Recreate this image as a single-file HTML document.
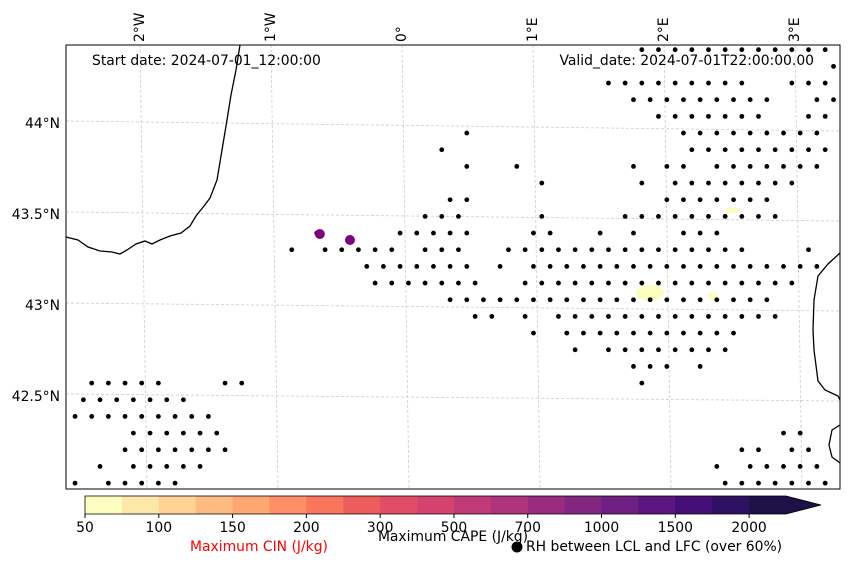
<!DOCTYPE html>
<html><head><meta charset="utf-8"><style>
body{margin:0;background:#fff;font-family:"DejaVu Sans",sans-serif}
svg text{font-family:"DejaVu Sans",sans-serif}
</style></head><body>
<svg id="c" width="850" height="565" viewBox="0 0 850 565" xmlns="http://www.w3.org/2000/svg">
<rect x="0" y="0" width="850" height="565" fill="#fff"/>
<g id="grid"></g>
<g id="cape"></g>
<g id="coast" fill="none" stroke="#000" stroke-width="1.3">
<path d="M240,45 L236,70 L231,95 L227,120 L222,150 L217,180 L210,198 L204,206 L196,216 L190,226 L181,233 L170,236 L160,240 L152,244 L145,241 L136,244 L127,250 L120,254 L112,252 L100,251 L88,247 L78,240 L66,237"/>
<path d="M840,253 L828,264 L818,276 L814,300 L813,330 L814,350 L818,381 L825,390 L838,396 L840,400"/>
<path d="M840,425 L832,430 L829,445 L832,457 L840,463"/>
</g>
<g id="dots"></g>
<g id="cin"></g>
<rect x="66" y="45" width="774" height="444" fill="none" stroke="#000" stroke-width="1"/>
<g id="labels" font-size="13.9"></g>
<text x="92" y="65" font-size="13.9">Start date: 2024-07-01_12:00:00</text>
<text x="814" y="65" font-size="13.9" text-anchor="end">Valid_date: 2024-07-01T22:00:00.00</text>
<g id="cbar"></g>
<text x="259" y="551" font-size="13.9" fill="#ff0000" text-anchor="middle">Maximum CIN (J/kg)</text>
<text x="453" y="541" font-size="13.9" text-anchor="middle">Maximum CAPE (J/kg)</text>
<circle cx="517" cy="547" r="5.5" fill="#000"/>
<text x="526" y="551" font-size="13.9">RH between LCL and LFC (over 60%)</text>
</svg>
<script>
// Data
const dotRows = [
 [34,35,36,37,38,39,40,41,42,43,44,45],
 [46],
 [32,33,34,35,36,37,38,39,40,43,44,45],
 [34,35,36,37,38,39,40,41,42,45,46],
 [35,36,37,38,39,40,41,44,45],
 [24,37,38,39,40,41,42,43,44,45],
 [22,37,38,39,40,41,42,43,44,45],
 [24,27,34,36,37,39,40,41,42,43,44,45],
 [28,34,36,37,38,39,40,41,42,43],
 [23,24,36,37,38,39,40,41,42],
 [21,22,23,28,33,34,35,36,37,38,39,40,41,42],
 [15,20,21,22,23,24,28,29,32,34,37,38,39],
 [13,15,16,17,18,19,21,22,23,26,27,28,29,30,31,32,33,34,35,36,37,38,39,40,44],
 [18,19,20,21,22,23,24,26,28,29,30,31,32,33,34,35,36,37,38,39,40,41,42,43,44,45],
 [18,19,20,21,22,23,24,27,28,29,30,31,32,33,34,35,36,37,38,39,40,41,42,43],
 [23,24,25,26,27,28,29,30,31,32,33,34,35,36,37,38,39,40,41,42],
 [24,25,27,29,30,31,32,33,34,35,36,37,38,39,40,41,42],
 [28,30,31,32,33,34,35,36,37,38,39,40],
 [30,32,33,34,35,36,37,38,39],
 [34,35,36,38],
 [1,2,3,4,5,9,10,34],
 [1,2,3,4,5,6,7],
 [0,1,2,3,4,5,6,7,8],
 [4,5,6,7,8,9,43,44],
 [3,4,5,6,7,8,9,40,41,43,44],
 [2,4,5,6,7,8,39,41,42,43,44,45],
 [0,2,3,4,5,6,39,40,41,42,43,44,45]
];
const cinLon = [-0.65, -0.42];
const cinLat = [43.39, 43.357];
const capeLon = [1.87, 2.35, 2.5];
const capeLat = [43.066, 43.05, 43.52];
const capeRx = [14, 5, 7];
const capeRy = [8, 4, 3];
const cbTicks = ["50","100","150","200","300","500","700","1000","1500","2000"];
const cbColors = ["#fcfdbf","#fde7a9","#fed395","#febb81","#fea772","#fc8f65","#f8765c","#ee5d5d","#e24d65","#d3436e","#c03a76","#ad347c","#982d80","#832681","#6f1f81","#5a167e","#440f76","#2f1163","#1d1147"];
const lonTicks = [-2,-1,0,1,2,3];
const latTicks = [44,43.5,43,42.5];

const NS="http://www.w3.org/2000/svg";
function mk(t,a,p){const e=document.createElementNS(NS,t);for(const k in a)e.setAttribute(k,a[k]);p.appendChild(e);return e;}
const lonX = lon => 405 + lon*131;
const latY = lat => 305 - (lat-43)*182;
const colX = (k,r) => 66.7 + (r%2===0?8.33:0) + 16.67*k;
const rowY = r => 49.7 + 16.67*r;

const grid=document.getElementById('grid');
lonTicks.forEach(l=>{const x=lonX(l);
 const e=mk('line',{x1:x-3,y1:45,x2:x+4,y2:489,stroke:'#ccc','stroke-width':0.8,'stroke-dasharray':'3,2'},grid);
 
 });
latTicks.forEach(l=>{const y=latY(l);
 const e=mk('line',{x1:66,y1:y-2,x2:840,y2:y+8-((44-l)*2),stroke:'#ccc','stroke-width':0.8,'stroke-dasharray':'3,2'},grid);
 
 });

const cape=document.getElementById('cape');
capeLon.forEach((l,i)=>{const e=mk('ellipse',{cx:lonX(l),cy:latY(capeLat[i]),rx:capeRx[i],ry:capeRy[i],fill:'#fcfdbf'},cape);
 
 });

const dots=document.getElementById('dots');
dotRows.forEach((row,r)=>row.forEach(k=>{
 const e=mk('circle',{cx:colX(k,r),cy:rowY(r),r:2.4,fill:'#000'},dots);
 
 }));

const cin=document.getElementById('cin');
cinLon.forEach((l,i)=>{const e=mk('circle',{cx:lonX(l),cy:latY(cinLat[i]),r:5,fill:'#800080'},cin);
 
 });

const lab=document.getElementById('labels');
latTicks.forEach(l=>{const t=mk('text',{x:60,y:latY(l)+5,'text-anchor':'end'},lab);t.textContent=l+'°N';
 
 });
lonTicks.forEach(l=>{const x=lonX(l)-4;const t=mk('text',{x:0,y:0,transform:`translate(${x+5},42) rotate(-90)`},lab);
 t.textContent=l===0?'0°':Math.abs(l)+'°'+(l<0?'W':'E');
 
 });

const cb=document.getElementById('cbar');
const cbX0=85,cbW=(786-85)/cbColors.length;
cbColors.forEach((c,i)=>{const e=mk('rect',{x:cbX0+i*cbW,y:496,width:cbW+0.5,height:18,fill:c},cb);
 
 });
const tri=mk('polygon',{points:'786,496 821,505 786,514',fill:'#1d1147'},cb);


const ol=mk('path',{d:'M85,496 L786,496 L821,505 L786,514 L85,514 Z',fill:'none',stroke:'#000','stroke-width':0.8},cb);


cbTicks.forEach((t,i)=>{const x=cbX0+i*2*cbW;
 const tk=mk('line',{x1:x,y1:514,x2:x,y2:518,stroke:'#000'},cb);
 
 
 const tx=mk('text',{x:x,y:532,'text-anchor':'middle','font-size':13.9},cb);tx.textContent=t;
 
 });
</script>
</body></html>
